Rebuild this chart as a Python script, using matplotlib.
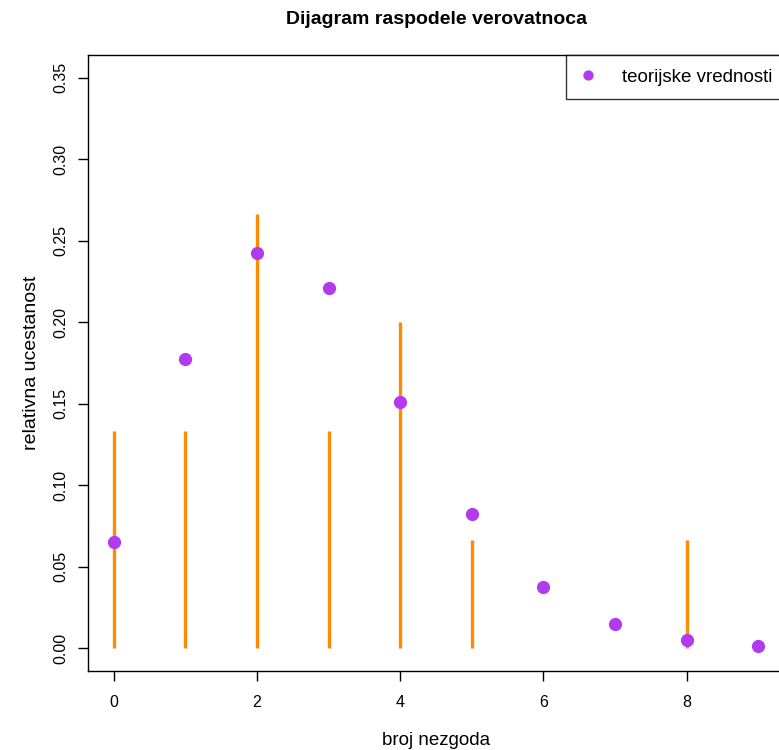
import numpy as np
import matplotlib.pyplot as plt

plt.rcParams['font.family'] = ['Liberation Sans', 'DejaVu Sans']

# data
k = [0, 1, 2, 3, 4, 5, 6, 7, 8, 9]
observed = [0.1333, 0.1333, 0.2667, 0.1333, 0.2000, 0.0667, 0.0, 0.0, 0.0667, 0.0]
theoretical = [0.0650, 0.1777, 0.2428, 0.2212, 0.1511, 0.0826, 0.0376, 0.0147, 0.0050, 0.0015]
x_ticks = [0, 2, 4, 6, 8]
y_ticks = [0.00, 0.05, 0.10, 0.15, 0.20, 0.25, 0.30, 0.35]

fig = plt.figure(figsize=(7.79, 7.5), dpi=100)
ax = fig.add_axes([0.113, 0.1053, 0.8934, 0.8214])

# observed frequencies as vertical lines
ax.vlines(k, 0, observed, color='#FF8C00', linewidth=2.4)
# theoretical values as points
ax.plot(k, theoretical, 'o', color='#B23AEE', markersize=8.5, label='teorijske vrednosti')

ax.set_xlim(-0.36, 9.36)
ax.set_ylim(-0.014, 0.364)
ax.set_xticks(x_ticks)
ax.set_xticklabels([str(t) for t in x_ticks])
ax.set_yticks(y_ticks)
ax.set_yticklabels([f"{t:.2f}" for t in y_ticks], rotation=90, va='center')
ax.tick_params(axis='both', direction='out', length=7, width=1, labelsize=11.5, pad=10)
ax.tick_params(axis='y', pad=7)
for s in ax.spines.values():
    s.set_linewidth(1)

ax.set_title("Dijagram raspodele verovatnoca", fontsize=14, fontweight='bold', pad=22)
ax.set_xlabel("broj nezgoda", fontsize=13.5, labelpad=16)
ax.set_ylabel("relativna ucestanost", fontsize=14, labelpad=10)

leg = ax.legend(loc='upper left', bbox_to_anchor=(0.687, 1.0), fontsize=13.5,
                frameon=True, fancybox=False, borderaxespad=0, borderpad=0.72,
                handletextpad=1.36, handlelength=0.9, markerscale=0.75)
leg.get_frame().set_edgecolor('black')
leg.get_frame().set_linewidth(1)

plt.savefig('out.png', dpi=100)
